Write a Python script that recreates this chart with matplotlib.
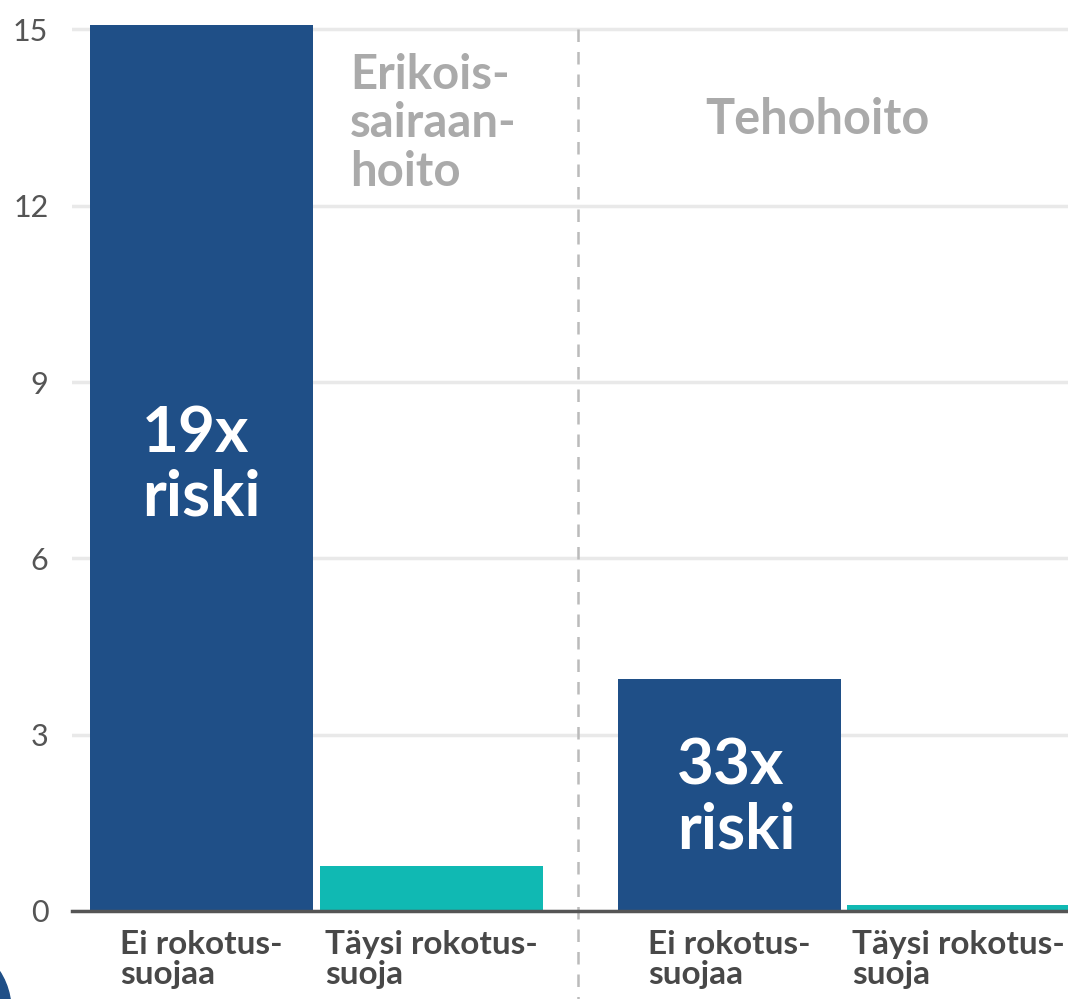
import matplotlib.pyplot as plt
from matplotlib.patches import Circle

# data
groups = ["Erikois-\nsairaan-\nhoito", "Tehohoito"]
labels = ["Ei rokotus-\nsuojaa", "Täysi rokotus-\nsuoja", "Ei rokotus-\nsuojaa", "Täysi rokotus-\nsuoja"]
values = [15.08, 0.77, 3.95, 0.1]
risk_text = ["19x\nriski", "33x\nriski"]
yticks = [0, 3, 6, 9, 12, 15]

blue = "#1f4f87"
teal = "#10b9b3"
colors = [blue, teal, blue, teal]
pos = [0, 1, 2.295, 3.29]

plt.rcParams['font.family'] = ['Lato', 'DejaVu Sans']

fig = plt.figure(figsize=(10.68, 9.99), dpi=100)
ax = fig.add_axes([72 / 1068, 88 / 999, 1 - 72 / 1068, 1 - 88 / 999])

ax.bar(pos, values, width=0.97, color=colors, zorder=3)

ax.set_xlim(-0.563, 3.767)
ax.set_ylim(0, 15.5)
ax.set_yticks(yticks)
ax.set_yticklabels([str(t) for t in yticks])
ax.grid(axis='y', color='#e9e9e9', linewidth=2.5, zorder=0)
ax.tick_params(axis='y', length=0, pad=17, labelsize=22, labelcolor='#555555')
ax.set_xticks(pos)
ax.set_xticklabels(labels, fontsize=24, fontweight='bold', color='#484848',
                   multialignment='left', linespacing=1.02)
ax.tick_params(axis='x', length=0, pad=14)
for s in ['top', 'right', 'left']:
    ax.spines[s].set_visible(False)
ax.spines['bottom'].set_color('#555555')
ax.spines['bottom'].set_linewidth(2.5)
ax.spines['bottom'].set_zorder(4)

# separator between groups
sep = (pos[1] + pos[2]) / 2 - 0.01
ax.plot([sep, sep], [15, -1.6], color='#bbbbbb', linewidth=1.8,
        linestyle=(0, (5, 4)), clip_on=False, zorder=2)

# group titles
ax.text(0.646, 14.6, groups[0], fontsize=34, fontweight='bold', color='#aaaaaa',
        ha='left', va='top', linespacing=1.12, zorder=4)
ax.text(2.676, 13.85, groups[1], fontsize=35, fontweight='bold', color='#aaaaaa',
        ha='center', va='top', zorder=4)

# risk annotations inside the blue bars
ax.text(pos[0], 7.59, risk_text[0], fontsize=46, fontweight='bold', color='white',
        ha='center', va='center', multialignment='left', linespacing=1.14, zorder=5)
ax.text(pos[2] + 0.03, 1.92, risk_text[1], fontsize=46, fontweight='bold', color='white',
        ha='center', va='center', multialignment='left', linespacing=1.14, zorder=5)

# logo corner fragment
fig.patches.append(Circle((-60, 999 - 1010), 71, transform=None, color=blue, zorder=10))

fig.savefig("out.png", dpi=100)
